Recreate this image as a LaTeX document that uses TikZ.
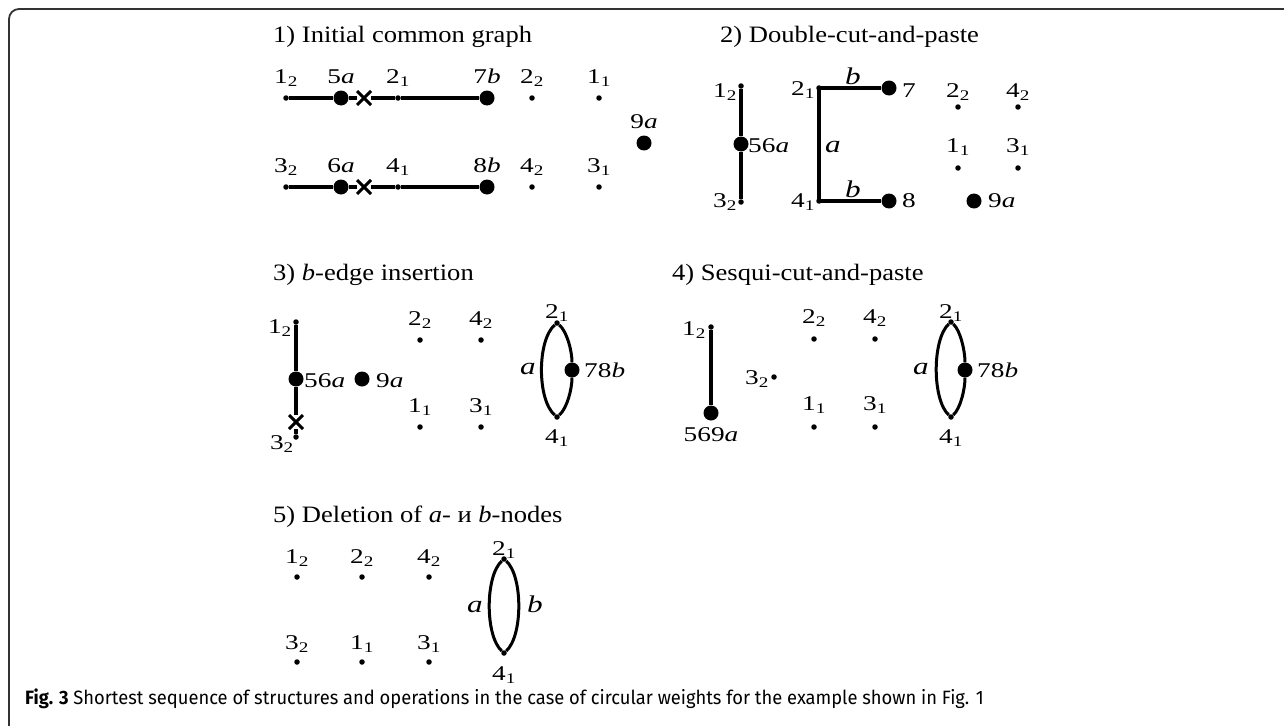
\documentclass[tikz,border=0pt]{standalone}
\usepackage{fontspec}
\setmainfont{Liberation Serif}
\newfontfamily\ttlfont{Liberation Serif}[FakeStretch=1.13]
\newfontfamily\lblfont{Liberation Serif}[FakeStretch=1.3]
\newfontfamily\capfont{Fira Sans}[FakeStretch=0.95]
\usetikzlibrary{
  shapes.misc,
  positioning
}
\tikzset{
  dot/.style={circle, fill, inner sep=0pt, minimum size=5.5pt},
  bigdot/.style={circle, fill, inner sep=0pt, minimum size=15pt},
  cutmark/.style={cross out, draw, line width=3pt, inner sep=0pt, minimum size=11pt},
  lbl/.style={font=\fontsize{21}{24}\lblfont, inner sep=0pt, anchor=base},
  elbl/.style={font=\fontsize{24}{28}\lblfont\itshape, inner sep=0pt, anchor=base},
  ttl/.style={font=\fontsize{23.5}{27}\ttlfont, inner sep=0pt, anchor=base west},
  gedge/.style={line width=3.4pt},
  ring/.style={line width=3pt},
  frame/.style={line width=1.8pt, black!80, rounded corners=10pt}
}

\begin{document}
\begin{tikzpicture}[x=1pt, y=-1pt]
  \useasboundingbox (0,0) rectangle (1284,725);
  \draw[frame] (9,730) -- (9,9) -- (1290,9);

  \node[ttl] (t1) at (273,42) {1) Initial common graph};
  \foreach \n/\s/\x/\y/\t in {a12/dot/286/98/{1\textsubscript{2}}, a5/bigdot/341/98/{5\textit{a}},
      a21/dot/398/98/{2\textsubscript{1}}, a7/bigdot/487/98/{7\textit{b}}, a22/dot/532/98/{2\textsubscript{2}},
      a11/dot/599/98/{1\textsubscript{1}}, a9/bigdot/644/143/{9\textit{a}},
      a32/dot/286/187/{3\textsubscript{2}}, a6/bigdot/341/187/{6\textit{a}}, a41/dot/398/187/{4\textsubscript{1}},
      a8/bigdot/487/187/{8\textit{b}}, a42/dot/532/187/{4\textsubscript{2}}, a31/dot/599/187/{3\textsubscript{1}}}{
    \node[\s] (\n) at (\x,\y) {};
    \node[lbl] (\n-l) at (\x,\y-15) {\t};
  }
  \node[cutmark] (ax1) at (364,98) {};
  \node[cutmark] (ax2) at (364,187) {};
  \draw[gedge] (a12) -- (a5) -- (ax1) -- (a21) -- (a7);
  \draw[gedge] (a32) -- (a6) -- (ax2) -- (a41) -- (a8);

  \node[ttl] (t2) at (720,42) {2) Double-cut-and-paste};
  \foreach \n/\s/\x/\y/\a/\lx/\ly/\t in {e12/dot/741/86/base east/737/97/{1\textsubscript{2}},
      e56/bigdot/741/144/base west/748/152/{56\textit{a}}, e32/dot/741/202/base east/737/207/{3\textsubscript{2}},
      e21/dot/819/88/base east/815/95/{2\textsubscript{1}}, e7/bigdot/889/88/base west/902/97/{7},
      e41/dot/819/201/base east/815/207/{4\textsubscript{1}}, e8/bigdot/889/201/base west/902/207/{8},
      e22/dot/958/107/base/958/97/{2\textsubscript{2}}, e42/dot/1018/107/base/1018/97/{4\textsubscript{2}},
      e11/dot/958/168/base/958/152/{1\textsubscript{1}}, e31/dot/1018/168/base/1018/152/{3\textsubscript{1}},
      e9/bigdot/974/201/base west/988/207/{9\textit{a}}}{
    \node[\s] (\n) at (\x,\y) {};
    \node[lbl, anchor=\a] (\n-l) at (\lx,\ly) {\t};
  }
  \draw[gedge] (e12) -- (e56) -- (e32);
  \draw[gedge] (e7) -- (e21.center) -- (e41.center) -- (e8);
  \node[elbl] (eb1) at (853,84) {b};
  \node[elbl] (eb2) at (853,197) {b};
  \node[elbl, anchor=base west] (ea) at (825,152) {a};

  \node[ttl] (t3) at (273,280) {3) \textit{b}-edge insertion};
  \foreach \n/\s/\x/\y/\a/\lx/\ly/\t in {f12/dot/296/322/base east/292/333/{1\textsubscript{2}},
      f56/bigdot/296/379/base west/304/387/{56\textit{a}}, f32/dot/296/437/base east/294/449/{3\textsubscript{2}},
      f9/bigdot/362/379/base west/376/387/{9\textit{a}},
      f22/dot/420/340/base/420/325/{2\textsubscript{2}}, f42/dot/481/340/base/481/325/{4\textsubscript{2}},
      f11/dot/420/427/base/420/412/{1\textsubscript{1}}, f31/dot/481/427/base/481/412/{3\textsubscript{1}},
      f21/dot/557/323/base/557/318/{2\textsubscript{1}}, f41/dot/557/417/base/557/443/{4\textsubscript{1}},
      f78/bigdot/572/370/base west/584/377/{78\textit{b}}}{
    \node[\s] (\n) at (\x,\y) {};
    \node[lbl, anchor=\a] (\n-l) at (\lx,\ly) {\t};
  }
  \node[cutmark] (fx) at (296,422) {};
  \draw[gedge] (f12) -- (f56) -- (fx) -- (f32);
  \draw[ring] (f21) .. controls +(-20,17) and +(-20,-17) .. (f41);
  \draw[ring] (f21) .. controls +(10,8.5) and +(0,-19) .. (f78) .. controls +(0,19) and +(10,-8.5) .. (f41);
  \node[elbl, anchor=base east] (fa) at (536,374) {a};

  \node[ttl] (t4) at (672,280) {4) Sesqui-cut-and-paste};
  \foreach \n/\s/\x/\y/\a/\lx/\ly/\t in {g12/dot/711/327/base east/706/335/{1\textsubscript{2}},
      g569/bigdot/711/413/base/711/441/{569\textit{a}}, g32/dot/774/377/base east/769/384/{3\textsubscript{2}},
      g22/dot/814/339/base/814/323/{2\textsubscript{2}}, g42/dot/875/339/base/875/323/{4\textsubscript{2}},
      g11/dot/814/427/base/814/410/{1\textsubscript{1}}, g31/dot/875/427/base/875/410/{3\textsubscript{1}},
      g21/dot/951/322/base/951/318/{2\textsubscript{1}}, g41/dot/951/417/base/951/443/{4\textsubscript{1}},
      g78/bigdot/965/370/base west/977/377/{78\textit{b}}}{
    \node[\s] (\n) at (\x,\y) {};
    \node[lbl, anchor=\a] (\n-l) at (\lx,\ly) {\t};
  }
  \draw[gedge] (g12) -- (g569);
  \draw[ring] (g21) .. controls +(-19,17) and +(-19,-17) .. (g41);
  \draw[ring] (g21) .. controls +(9.5,8.5) and +(0,-19) .. (g78) .. controls +(0,19) and +(9.5,-8.5) .. (g41);
  \node[elbl, anchor=base east] (ga) at (929,374) {a};

  \node[ttl] (t5) at (273,522) {5) Deletion of \textit{a}- и \textit{b}-nodes};
  \foreach \n/\x/\y/\ly/\t in {h12/297/577/563/{1\textsubscript{2}}, h22/362/577/563/{2\textsubscript{2}},
      h42/429/577/563/{4\textsubscript{2}}, h32/297/662/649/{3\textsubscript{2}}, h11/362/662/649/{1\textsubscript{1}},
      h31/429/662/649/{3\textsubscript{1}}, h21/504/559/555/{2\textsubscript{1}}, h41/504/653/680/{4\textsubscript{1}}}{
    \node[dot] (\n) at (\x,\y) {};
    \node[lbl] (\n-l) at (\x,\ly) {\t};
  }
  \draw[ring] (h21) .. controls +(-19,17) and +(-19,-17) .. (h41);
  \draw[ring] (h21) .. controls +(19,17) and +(19,-17) .. (h41);
  \node[elbl, anchor=base east] (ha) at (483,612) {a};
  \node[elbl, anchor=base west] (hb) at (527,612) {b};

  \node[anchor=base west, inner sep=0pt, font=\fontsize{19.3}{22}\capfont] (cap) at (25,704)
    {\textbf{Fig. 3} Shortest sequence of structures and operations in the case of circular weights for the example shown in Fig. 1};
\end{tikzpicture}
\end{document}
